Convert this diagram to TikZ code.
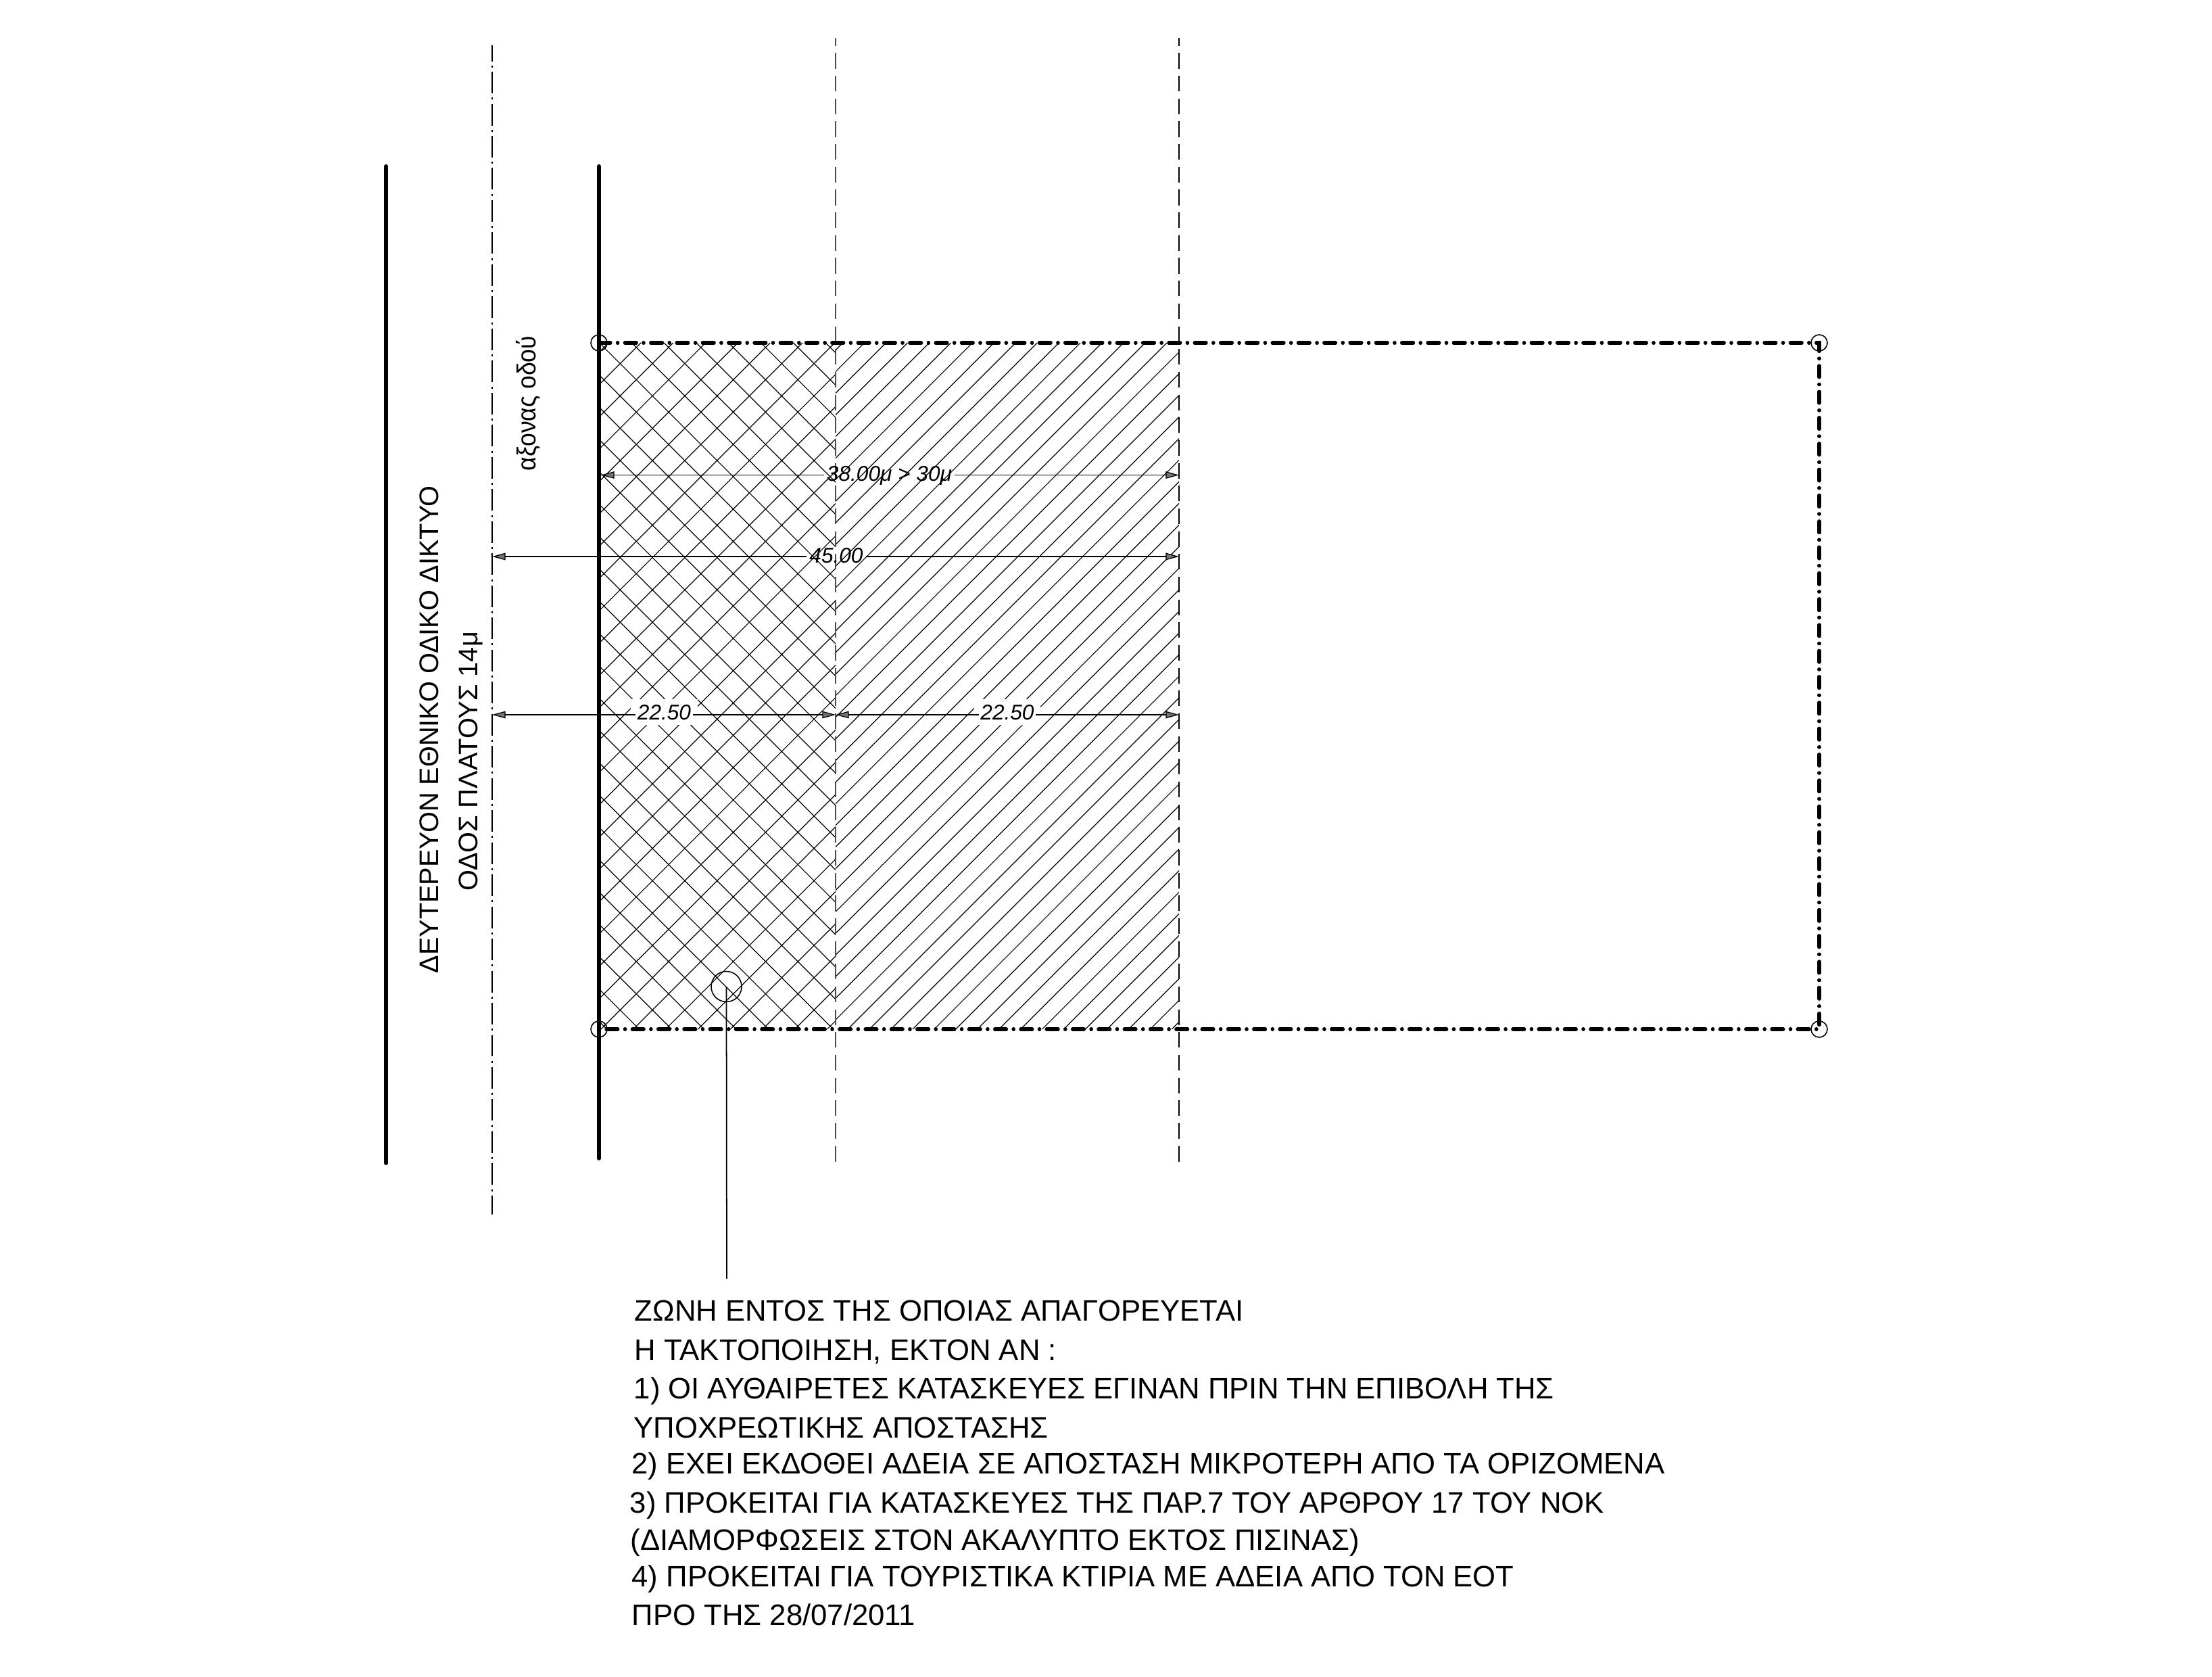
\documentclass[tikz,border=0pt]{standalone}
\usepackage{fontspec}
\setmainfont{Liberation Sans}
\newfontfamily\narrowfont[FakeStretch=0.92]{Liberation Sans}
\usetikzlibrary{arrows.meta}

\tikzset{
    road/.style={line width=1.7pt, line cap=round},
    axisline/.style={line width=0.5pt, dash pattern=on 9.1pt off 1.78pt on 0.85pt off 1.78pt, dash phase=2.4pt},
    setback/.style={dash pattern=on 6.6pt off 2.98pt, dash phase=3.33pt},
    plotline/.style={line width=1.45pt, line cap=round, dash pattern=on 4.84pt off 2.96pt on 0.14pt off 2.96pt},
    hatchline/.style={line width=0.34pt},
    dimline/.style={line width=0.36pt, arrows={Triangle[length=5.6pt,width=3pt,fill=black!55]-}},
    corner/.style={circle, draw, minimum size=0.24cm, inner sep=0pt, line width=0.45pt},
    note/.style={anchor=base west, inner sep=0pt, font=\fontsize{12.43}{14}\selectfont},
    sidenote/.style={anchor=base west, inner sep=0pt, font=\fontsize{11.3}{14}\selectfont},
    dimlabel/.style={anchor=base, inner xsep=1pt, inner ysep=1pt, font=\fontsize{9}{11}\selectfont\itshape},
    masked/.style={dimlabel, fill=white, inner xsep=2.8pt, inner ysep=2.3pt}
}

\begin{document}
\begin{tikzpicture}

    \useasboundingbox (0,0) rectangle (32.72,-24.80);

    \coordinate (midtop) at (12.36,-5.07);

    \coordinate (midbot) at (12.36,-15.22);

    \coordinate (endtop) at (17.44,-5.07);

    \coordinate (endbot) at (17.44,-15.22);

    \coordinate (plotl) at (8.86,-5.07);

    \coordinate (plotb) at (8.86,-15.22);

    \begin{scope}
        \clip (plotl) rectangle (midbot);

        \foreach \k in {-1,...,29} {
            \draw[hatchline] ({14.55+0.478*\k-5.07},-5.07) -- ({14.55+0.478*\k-15.22},-15.22);
        }

        \foreach \k in {-8,...,22} {
            \draw[hatchline] ({5.07+3.796-0.478*\k},-5.07) -- ({15.22+3.796-0.478*\k},-15.22);
        }
    \end{scope}

    \begin{scope}
        \clip (midtop) rectangle (endbot);

        \foreach \k in {-5,...,42} {
            \draw[hatchline] ({19.134+0.3195*\k-5.07},-5.07) -- ({19.134+0.3195*\k-15.22},-15.22);
        }
    \end{scope}

    \coordinate (road1a) at (5.71,-2.46);

    \coordinate (road1b) at (5.71,-17.20);

    \coordinate (road2a) at (8.86,-2.46);

    \coordinate (road2b) at (8.86,-17.13);

    \coordinate (axisa) at (7.28,-0.67);

    \coordinate (axisb) at (7.28,-17.96);

    \coordinate (seta) at (12.36,-0.565);

    \coordinate (setb) at (12.36,-17.19);

    \coordinate (setc) at (17.44,-0.565);

    \coordinate (setd) at (17.44,-17.19);

    \draw[road] (road1a) -- (road1b);

    \draw[road] (road2a) -- (road2b);

    \draw[axisline] (axisa) -- (axisb);

    \draw[setback, line width=0.42pt, black!70] (seta) -- (setb);

    \draw[setback, line width=0.7pt] (setc) -- (setd);

    \node[corner] (ctl) at (8.86,-5.07) {};

    \node[corner] (ctr) at (26.91,-5.07) {};

    \node[corner] (cbr) at (26.91,-15.22) {};

    \node[corner] (cbl) at (8.86,-15.22) {};

    \draw[plotline] (ctl.center) -- (ctr.center) -- (cbr.center) -- (cbl.center);

    \node[circle, draw, minimum size=0.45cm, inner sep=0pt, line width=0.45pt] (zone) at (10.745,-14.59) {};

    \coordinate (leader) at (10.75,-18.91);

    \draw[line width=0.5pt] (zone.center) -- (leader);

    \node[dimlabel] (dim38) at (13.155,-7.12) {38.00μ > 30μ};

    \node[dimlabel] (dim45) at (12.37,-8.32) {45.00};

    \node[masked] (dim22a) at (9.825,-10.64) {22.50};

    \node[masked] (dim22b) at (14.90,-10.64) {22.50};

    \coordinate (d38l) at (8.89,-7.025);

    \coordinate (d38r) at (17.44,-7.025);

    \coordinate (d45l) at (7.28,-8.23);

    \coordinate (d45r) at (17.44,-8.23);

    \coordinate (d22l) at (7.28,-10.57);

    \coordinate (d22m) at (12.36,-10.57);

    \coordinate (d22r) at (17.44,-10.57);

    \draw[dimline] (d38l) -- (dim38.west |- d38l);

    \draw[dimline] (d38r) -- (dim38.east |- d38r);

    \draw[dimline] (d45l) -- (dim45.west |- d45l);

    \draw[dimline] (d45r) -- (dim45.east |- d45r);

    \draw[dimline] (d22l) -- ([xshift=2.2pt]dim22a.west |- d22l);

    \draw[dimline] (d22m) -- ([xshift=-2.2pt]dim22a.east |- d22m);

    \draw[dimline] (d22m) -- ([xshift=2.2pt]dim22b.west |- d22m);

    \draw[dimline] (d22r) -- ([xshift=-2.2pt]dim22b.east |- d22r);

    \node[sidenote, rotate=90] (road1) at (6.48,-14.40) {ΔΕΥΤΕΡΕΥΟΝ ΕΘΝΙΚΟ ΟΔΙΚΟ ΔΙΚΤΥΟ};

    \node[sidenote, rotate=90] (road2) at (7.06,-13.18) {ΟΔΟΣ ΠΛΑΤΟΥΣ 14μ};

    \node[sidenote, rotate=90, font=\fontsize{11}{14}\narrowfont] (axislabel) at (7.925,-6.97) {αξονας οδού};

    \node[note] (line1) at (9.38,-19.53) {ΖΩΝΗ ΕΝΤΟΣ ΤΗΣ ΟΠΟΙΑΣ ΑΠΑΓΟΡΕΥΕΤΑΙ};

    \node[note] (line2) at (9.38,-20.11) {Η ΤΑΚΤΟΠΟΙΗΣΗ, ΕΚΤΟΝ ΑΝ :};

    \node[note] (line3) at (9.37,-20.68) {1) ΟΙ ΑΥΘΑΙΡΕΤΕΣ ΚΑΤΑΣΚΕΥΕΣ ΕΓΙΝΑΝ ΠΡΙΝ ΤΗΝ ΕΠΙΒΟΛΗ ΤΗΣ};

    \node[note] (line4) at (9.37,-21.26) {ΥΠΟΧΡΕΩΤΙΚΗΣ ΑΠΟΣΤΑΣΗΣ};

    \node[note] (line5) at (9.34,-21.79) {2) ΕΧΕΙ ΕΚΔΟΘΕΙ ΑΔΕΙΑ ΣΕ ΑΠΟΣΤΑΣΗ ΜΙΚΡΟΤΕΡΗ ΑΠΟ ΤΑ ΟΡΙΖΟΜΕΝΑ};

    \node[note] (line6) at (9.31,-22.37) {3) ΠΡΟΚΕΙΤΑΙ ΓΙΑ ΚΑΤΑΣΚΕΥΕΣ ΤΗΣ ΠΑΡ.7 ΤΟΥ ΑΡΘΡΟΥ 17 ΤΟΥ ΝΟΚ};

    \node[note] (line7) at (9.32,-22.92) {(ΔΙΑΜΟΡΦΩΣΕΙΣ ΣΤΟΝ ΑΚΑΛΥΠΤΟ ΕΚΤΟΣ ΠΙΣΙΝΑΣ)};

    \node[note] (line8) at (9.34,-23.46) {4) ΠΡΟΚΕΙΤΑΙ ΓΙΑ ΤΟΥΡΙΣΤΙΚΑ ΚΤΙΡΙΑ ΜΕ ΑΔΕΙΑ ΑΠΟ ΤΟΝ ΕΟΤ};

    \node[note] (line9) at (9.34,-24.036) {ΠΡΟ ΤΗΣ 28/07/2011};

\end{tikzpicture}
\end{document}
